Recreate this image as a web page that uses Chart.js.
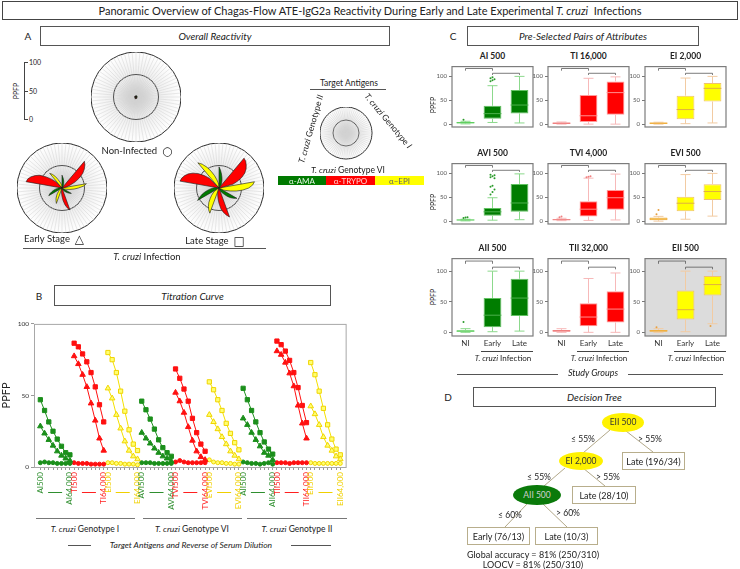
<!DOCTYPE html>
<html>
<head>
<meta charset="utf-8">
<script src="https://cdn.jsdelivr.net/npm/chart.js@4.4.0/dist/chart.umd.min.js"></script>
<style>
body { margin: 0; background: #fff; font-family: Lato, "Open Sans", sans-serif; color: #222; }
#fig { position: relative; width: 740px; height: 569px; overflow: hidden; }
.t { position: absolute; white-space: nowrap; line-height: 1; transform: translate(-50%, -50%); }
.bx { position: absolute; box-sizing: border-box; border: 1px solid #555; display: flex; align-items: center; justify-content: center; white-space: nowrap; }
.hl { position: absolute; height: 0; border-top: 1px solid #666; }
.sym { font-size: 12px; vertical-align: -1px; font-family: "DejaVu Sans", sans-serif; }
canvas { position: absolute; }
svg { position: absolute; left: 0; top: 0; }
</style>
</head>
<body>
<div id="fig">
  <svg width="740" height="569">
    <g stroke="#a99e7c" stroke-width="0.9">
      <line x1="610" y1="430" x2="583" y2="453"/>
      <line x1="626" y1="431" x2="653" y2="452"/>
      <line x1="565" y1="468" x2="544" y2="486"/>
      <line x1="583" y1="468" x2="605" y2="486"/>
      <line x1="528" y1="503" x2="505" y2="527"/>
      <line x1="543" y1="504" x2="567" y2="527"/>
    </g>
  </svg>
</div>
<script>
// ---------------------------------------------------------------
// Titration data (PPFP), serum dilution 1:500 -> 1:64,000
// ---------------------------------------------------------------
const dilutions = ['500', '1,000', '2,000', '4,000', '8,000', '16,000', '32,000', '64,000'];
const attrs = ['AI', 'TI', 'EI', 'AVI', 'TVI', 'EVI', 'AII', 'TII', 'EII'];

const AI_ni     = [3, 3.5, 3, 3, 2.5, 2.5, 2.5, 2.5];
const AI_early  = [28.5, 23.5, 19, 15, 11, 8, 6, 4.5];
const AI_late   = [47, 39.5, 31.5, 25, 19.5, 14.5, 10, 8.5];
const TI_ni     = [3, 2.5, 2.5, 2.5, 2, 2, 2, 2];
const TI_early  = [77.5, 72, 64.5, 56, 44.5, 32.5, 20, 11.5];
const TI_late   = [86.5, 84, 79, 73.5, 66, 56, 43.5, 31.5];
const EI_ni     = [3, 3, 2.5, 2.5, 2, 2, 2, 1.5];
const EI_early  = [55, 48, 36.5, 27, 18, 11.5, 7.5, 5.5];
const EI_late   = [80, 75, 66, 53, 39, 26, 16, 11.5];
const AVI_ni    = [3, 3, 3, 2.5, 2.5, 2.5, 2.5, 2.5];
const AVI_early = [24, 20, 16.5, 13, 10, 7.5, 6, 4];
const AVI_late  = [46, 40, 33.5, 26.5, 19, 13.5, 10, 7.5];
const TVI_ni    = [3.5, 4.5, 3.5, 3, 3, 3, 3, 3];
const TVI_early = [52, 46, 38, 28, 18.5, 11, 7, 5];
const TVI_late  = [68.5, 62, 54.5, 46, 34, 24, 16, 11];
const EVI_ni    = [5, 3.5, 3, 3, 2.5, 2.5, 2, 2];
const EVI_early = [36.5, 31.5, 26.5, 21, 16, 11, 8, 5.5];
const EVI_late  = [59.5, 54, 47, 39.5, 30.5, 23.5, 17, 12];
const AII_ni    = [3.5, 3, 2.5, 2.5, 2, 2.5, 3, 2];
const AII_early = [34, 29.5, 24, 19, 14.5, 10, 8, 5];
const AII_late  = [55, 47, 39.5, 31.5, 24, 17.5, 12.5, 9];
const TII_ni    = [3, 3, 3, 2.5, 3, 3, 3, 3];
const TII_early = [81, 78.5, 73, 65.5, 56.5, 43, 30.5, 20];
const TII_late  = [88, 85.5, 81, 74.5, 66, 55.5, 43, 31];
const EII_ni    = [3, 2.5, 2.5, 2.5, 2.5, 2.5, 2.5, 2.5];
const EII_early = [42.5, 37, 29.5, 21, 15, 11.5, 7.5, 5.5];
const EII_late  = [73, 64.5, 53, 41, 29.5, 19.5, 12.5, 8.5];

// ---------------------------------------------------------------
// Box plots: [min, q1, median, q3, max] for NI, Early, Late + outliers
// ---------------------------------------------------------------
const boxGroups = ['NI', 'Early', 'Late'];
const AI500     = [[0.5, 1.5, 3, 4.5, 6], [3.5, 11.5, 22, 38.5, 80.5], [2.5, 22.5, 40, 71.5, 100]];
const AI500o    = [[9], [90, 92, 94, 96, 98], []];
const TI16000   = [[0, 0.5, 2, 3.5, 4.5], [0, 4.5, 17.5, 61, 96], [0, 19.5, 66, 89.5, 99]];
const TI16000o  = [[], [], []];
const EI2000    = [[0, 0.5, 2, 3.5, 4], [1, 10, 30.5, 59.5, 96.5], [2.5, 47.5, 75, 86, 100]];
const EI2000o   = [[], [], []];
const AVI500    = [[0.5, 1.5, 2.5, 3.5, 4], [2, 11.5, 19.5, 27.5, 49], [3, 19.5, 38, 78, 99]];
const AVI500o   = [[6.5, 7.5, 8], [56, 61, 66, 72, 74, 90, 92, 94, 96, 97], []];
const TVI4000   = [[1, 2, 3, 4, 6], [1.5, 9.5, 25, 41.5, 90], [2.5, 24, 49, 65, 98.5]];
const TVI4000o  = [[8, 9.5], [92, 93, 94], []];
const EVI500    = [[0, 2, 4.5, 7.5, 10], [4, 20.5, 37.5, 51, 97.5], [10.5, 44.5, 62, 77.5, 100]];
const EVI500o   = [[14.5, 23.5], [], []];
const AII500    = [[0, 1, 2, 3.5, 6], [1, 8.5, 28, 56, 100], [2, 26.5, 56, 87.5, 100]];
const AII500o   = [[17], [], []];
const TII32000  = [[0, 1, 2.5, 4, 6], [0, 10, 25, 47.5, 88], [0, 16, 38, 67, 97]];
const TII32000o = [[], [], []];
const EII500    = [[0, 1, 2.5, 4, 6], [1, 21, 37, 68.5, 100], [14, 60, 78, 92, 100]];
const EII500o   = [[8.5], [], [10.5]];

// ---------------------------------------------------------------
Chart.defaults.font.family = 'Lato, "Open Sans", sans-serif';
Chart.defaults.animation = false;
Chart.defaults.events = [];
Chart.defaults.plugins.legend.display = false;
Chart.defaults.plugins.tooltip.enabled = false;

const fig = document.getElementById('fig');

function lab(x, y, html, css) {
  const d = document.createElement('div');
  d.className = 't';
  d.style.cssText = 'left:' + x + 'px;top:' + y + 'px;' + (css || '');
  d.innerHTML = html;
  fig.appendChild(d);
  return d;
}
function box(x, y, w, h, html, css) {
  const d = document.createElement('div');
  d.className = 'bx';
  d.style.cssText = 'left:' + x + 'px;top:' + y + 'px;width:' + w + 'px;height:' + h + 'px;' + (css || '');
  d.innerHTML = html;
  fig.appendChild(d);
  return d;
}
function hline(x1, x2, y, col) {
  const d = document.createElement('div');
  d.className = 'hl';
  d.style.cssText = 'left:' + x1 + 'px;top:' + y + 'px;width:' + (x2 - x1) + 'px;border-color:' + (col || '#666');
  fig.appendChild(d);
}
function canvasAt(x, y, w, h) {
  const c = document.createElement('canvas');
  c.width = w; c.height = h;
  c.style.left = x + 'px'; c.style.top = y + 'px';
  fig.appendChild(c);
  return c.getContext('2d');
}
function seg(ctx, x1, y1, x2, y2) {
  ctx.beginPath(); ctx.moveTo(x1, y1); ctx.lineTo(x2, y2); ctx.stroke();
}

const series = {
  AI: [AI_ni, AI_early, AI_late], TI: [TI_ni, TI_early, TI_late], EI: [EI_ni, EI_early, EI_late],
  AVI: [AVI_ni, AVI_early, AVI_late], TVI: [TVI_ni, TVI_early, TVI_late], EVI: [EVI_ni, EVI_early, EVI_late],
  AII: [AII_ni, AII_early, AII_late], TII: [TII_ni, TII_early, TII_late], EII: [EII_ni, EII_early, EII_late]
};

const antFill  = ['#007a00', '#ff0000', '#ffff00'];
const lineCol  = ['#1b8f1b', '#ff1010', '#f4e000'];
const tickCol  = ['#2f8f2f', '#ff2020', '#f0d000'];

// ---------------------------------------------------------------
// Title and panel headers
// ---------------------------------------------------------------
box(2, 1, 736, 19, 'Panoramic Overview of Chagas-Flow ATE-IgG2a Reactivity During Early and Late Experimental <i>&nbsp;T. cruzi</i>&nbsp; Infections', 'font-size:11px;border-color:#444');
lab(28, 36, 'A', 'font-size:10px');
box(40, 26, 350, 20, 'Overall Reactivity', 'font-size:10px;font-style:italic');
lab(453, 36, 'C', 'font-size:10px');
box(467, 26, 232, 20, 'Pre-Selected Pairs of Attributes', 'font-size:10px;font-style:italic');
lab(39, 296, 'B', 'font-size:10px');
box(54, 285, 277, 21, 'Titration Curve', 'font-size:10px;font-style:italic');
lab(448, 397, 'D', 'font-size:10px');
box(473, 387, 243, 20, 'Decision Tree', 'font-size:10px;font-style:italic');

// ---------------------------------------------------------------
// Panel A: radar charts
// ---------------------------------------------------------------
const radarBg = {
  id: 'radarBg',
  beforeDraw(chart) {
    const r = chart.scales.r, ctx = chart.ctx;
    const g = ctx.createRadialGradient(r.xCenter, r.yCenter, 0, r.xCenter, r.yCenter, r.drawingArea);
    g.addColorStop(0, '#c6c6c6');
    g.addColorStop(0.45, '#ececec');
    g.addColorStop(1, '#ffffff');
    ctx.save();
    ctx.fillStyle = g;
    ctx.beginPath(); ctx.arc(r.xCenter, r.yCenter, r.drawingArea, 0, Math.PI * 2); ctx.fill();
    ctx.restore();
  }
};

const spokeLabels = [];
attrs.forEach(a => dilutions.forEach(d => spokeLabels.push(a + d)));

function radarSets(stage) {
  return attrs.map((a, gi) => ({
    data: spokeLabels.map((_, i) => Math.floor(i / 8) === gi ? series[a][stage][i % 8] : 0),
    backgroundColor: antFill[gi % 3],
    borderColor: '#1a1a1a',
    borderWidth: 0.6,
    fill: true,
    pointRadius: 0,
    tension: 0
  }));
}

function radar(x, y, size, datasets) {
  new Chart(canvasAt(x, y, size, size), {
    type: 'radar',
    data: { labels: spokeLabels, datasets: datasets },
    options: {
      responsive: false,
      scales: {
        r: {
          min: 0, max: 100,
          ticks: { display: false, stepSize: 50 },
          grid: { color: '#111', lineWidth: 0.9, circular: true },
          angleLines: { color: '#d2d2d2', lineWidth: 0.5 },
          pointLabels: { display: false }
        }
      }
    },
    plugins: [radarBg]
  });
}

radar(91, 52, 90, radarSets(0));
radar(17, 143, 90, radarSets(1));
radar(174, 143, 90, radarSets(2));
radar(320, 107, 53, []);

// small PPFP scale
const ax = document.createElement('div');
ax.style.cssText = 'position:absolute;left:24px;top:62px;width:0;height:57px;border-left:1px solid #444';
fig.appendChild(ax);
[62, 90.5, 119].forEach((y, i) => {
  hline(24, 28, y, '#444');
  lab(29, y, ['100', '50', '0'][i], 'font-size:7px;transform:translate(0,-50%)');
});
lab(16, 91, 'PPFP', 'font-size:7px;transform:translate(-50%,-50%) rotate(-90deg)');

lab(137, 151, 'Non-Infected&nbsp; <span class="sym">○</span>', 'font-size:9.5px');
lab(54, 239, 'Early Stage&nbsp; <span class="sym">△</span>', 'font-size:9.5px');
lab(215, 241, 'Late Stage&nbsp; <span class="sym">□</span>', 'font-size:9.5px');
hline(23, 266, 248, '#555');
lab(147, 257, '<i>T. cruzi</i> Infection', 'font-size:9.5px');

lab(349, 83, 'Target Antigens', 'font-size:8.5px');
hline(310, 386, 89, '#555');
lab(311, 129, '<i>T. cruzi</i> Genotype <i>II</i>', 'font-size:8.5px;transform:translate(-50%,-50%) rotate(-74deg)');
lab(388, 121, '<i>T. cruzi</i> Genotype <i>I</i>', 'font-size:8.5px;transform:translate(-50%,-50%) rotate(50deg)');
lab(348, 170, '<i>T. cruzi</i> Genotype VI', 'font-size:8.5px');
box(278, 176, 48, 9, 'α-AMA', 'border:none;background:#007a00;color:#e8f5e8;font-size:8px');
box(326, 176, 49, 9, 'α-TRYPO', 'border:none;background:#ff0000;color:#ffd6d6;font-size:8px');
box(375, 176, 49, 9, 'α–EPI', 'border:none;background:#ffff00;color:#666;font-size:8px');

// ---------------------------------------------------------------
// Panel B: titration curves
// ---------------------------------------------------------------
const stageStyle = [
  { style: 'circle', r: 2 },
  { style: 'triangle', r: 3.2 },
  { style: 'rect', r: 3 }
];
const lineSets = [];
attrs.forEach((a, gi) => {
  const ag = gi % 3;
  series[a].forEach((vals, st) => {
    lineSets.push({
      data: vals.map((v, k) => ({ x: gi * 8 + k, y: v })),
      borderColor: lineCol[ag],
      backgroundColor: ag === 2 ? '#ffff70' : lineCol[ag],
      pointBorderColor: ag === 2 ? '#f0d400' : lineCol[ag],
      pointStyle: stageStyle[st].style,
      pointRadius: stageStyle[st].r,
      pointBorderWidth: 1,
      borderWidth: 1,
      tension: 0
    });
  });
});

const titrationExtras = {
  id: 'titrationExtras',
  afterDraw(chart) {
    const a = chart.chartArea, ctx = chart.ctx, xs = chart.scales.x;
    ctx.save();
    ctx.strokeStyle = '#a8a8a8'; ctx.lineWidth = 1;
    ctx.strokeRect(a.left + 0.5, a.top + 0.5, a.right - a.left - 1, a.bottom - a.top);
    attrs.forEach((_, gi) => {
      const x = xs.getPixelForValue(gi * 8 + 3.5);
      ctx.strokeStyle = tickCol[gi % 3];
      seg(ctx, x - 7, a.bottom + 25.5, x + 7, a.bottom + 25.5);
    });
    ctx.restore();
  }
};

new Chart(canvasAt(0, 318, 352, 195), {
  type: 'line',
  data: { datasets: lineSets },
  options: {
    responsive: false,
    layout: { padding: { top: 5, right: 3, left: 0, bottom: 0 } },
    scales: {
      x: {
        type: 'linear', min: -1.5, max: 72.5,
        afterBuildTicks: s => { s.ticks = spokeLabels.map((_, i) => ({ value: i })); },
        afterFit: s => { s.height = 46; },
        grid: { drawOnChartArea: false, tickLength: 3, color: '#999' },
        border: { display: false },
        ticks: {
          autoSkip: false, minRotation: 90, maxRotation: 90, padding: 2,
          font: { size: 8 },
          color: c => tickCol[Math.floor(c.tick.value / 8) % 3],
          callback: v => {
            const a = attrs[Math.floor(v / 8)];
            if (v % 8 === 0) return a + dilutions[0];
            if (v % 8 === 7) return a + dilutions[7];
            return '';
          }
        }
      },
      y: {
        min: 0, max: 100,
        afterFit: s => { s.width = 34; },
        ticks: { stepSize: 50, font: { size: 6.5 }, color: '#333', padding: 2 },
        grid: { drawOnChartArea: false, tickLength: 3, color: '#999' },
        border: { display: false },
        title: { display: true, text: 'PPFP', font: { size: 11 }, color: '#222', padding: { top: 0, bottom: 2 } }
      }
    }
  },
  plugins: [titrationExtras]
});

[[36, 135, 85, 'I'], [143, 242, 192, 'VI'], [247, 347, 297, 'II']].forEach(g => {
  hline(g[0], g[1], 518, '#777');
  lab(g[2], 529, '<i>T. cruzi</i> Genotype ' + g[3], 'font-size:8.5px');
});
lab(191, 545, '<i>Target Antigens and Reverse of Serum Dilution</i>', 'font-size:8.5px');
hline(68, 91, 545, '#555');
hline(291, 331, 545, '#555');

// ---------------------------------------------------------------
// Panel C: box plots
// ---------------------------------------------------------------
const boxCol = [
  { fill: '#007d00', border: '#62c262', whisker: '#8cd98c', median: '#4cb04c', niFill: '#2fb52f', niBorder: '#5fcf5f', out: '#2a9a2a' },
  { fill: '#ff0000', border: '#ff9a9a', whisker: '#f7b9b9', median: '#ff9090', niFill: '#f49a9a', niBorder: '#f08080', out: '#f08080' },
  { fill: '#ffff00', border: '#efc070', whisker: '#f2cba2', median: '#e0b040', niFill: '#f8c850', niBorder: '#f0b040', out: '#e8a040' }
];

const boxPanels = [
  ['AI 500', 0, AI500, AI500o], ['TI 16,000', 1, TI16000, TI16000o], ['EI 2,000', 2, EI2000, EI2000o],
  ['AVI 500', 0, AVI500, AVI500o], ['TVI 4,000', 1, TVI4000, TVI4000o], ['EVI 500', 2, EVI500, EVI500o],
  ['AII 500', 0, AII500, AII500o], ['TII 32,000', 1, TII32000, TII32000o], ['EII 500', 2, EII500, EII500o]
];

const boxExtras = {
  id: 'boxExtras',
  beforeDraw(chart) {
    const o = chart.options.plugins.boxExtras, a = chart.chartArea, ctx = chart.ctx;
    if (o.shade) {
      ctx.save(); ctx.fillStyle = '#dcdcdc';
      ctx.fillRect(a.left, a.top, a.right - a.left, a.bottom - a.top);
      ctx.restore();
    }
  },
  afterDatasetsDraw(chart) {
    const o = chart.options.plugins.boxExtras, a = chart.chartArea, ctx = chart.ctx;
    const ys = chart.scales.y, col = boxCol[o.ag];
    const bars = chart.getDatasetMeta(0).data;
    ctx.save();
    ctx.lineWidth = 1;
    o.stats.forEach((s, i) => {
      const x = bars[i].x, hw = bars[i].width / 2;
      ctx.strokeStyle = col.whisker;
      seg(ctx, x, ys.getPixelForValue(s[0]), x, ys.getPixelForValue(s[1]));
      seg(ctx, x, ys.getPixelForValue(s[3]), x, ys.getPixelForValue(s[4]));
      seg(ctx, x - 5, ys.getPixelForValue(s[0]), x + 5, ys.getPixelForValue(s[0]));
      seg(ctx, x - 5, ys.getPixelForValue(s[4]), x + 5, ys.getPixelForValue(s[4]));
      ctx.strokeStyle = i === 0 ? col.niBorder : col.median;
      seg(ctx, x - hw, ys.getPixelForValue(s[2]), x + hw, ys.getPixelForValue(s[2]));
      ctx.fillStyle = col.out;
      o.out[i].forEach((v, k) => {
        ctx.beginPath();
        ctx.arc(x + ((k % 3) - 1) * 2, ys.getPixelForValue(v), 1, 0, Math.PI * 2);
        ctx.fill();
      });
    });
    // significance brackets
    ctx.strokeStyle = '#5a5a5a'; ctx.lineWidth = 0.8;
    const bracket = (x1, x2, v, v2) => {
      const y = ys.getPixelForValue(v), y2 = ys.getPixelForValue(v2);
      ctx.beginPath(); ctx.moveTo(x1, y2); ctx.lineTo(x1, y); ctx.lineTo(x2, y); ctx.lineTo(x2, y2); ctx.stroke();
    };
    bracket(bars[0].x, bars[1].x, 116.5, 112);
    bracket(bars[1].x, bars[2].x, 106.5, 103);
    // frame
    ctx.strokeStyle = '#7c7c7c'; ctx.lineWidth = 1.2;
    ctx.strokeRect(a.left, a.top, a.right - a.left, a.bottom - a.top);
    ctx.restore();
  }
};

const colX = [452, 548, 645];
const rowY = [62, 159, 254];
boxPanels.forEach((p, n) => {
  const c = n % 3, r = Math.floor(n / 3);
  const fx = colX[c], fy = rowY[r], fw = 81, fh = r === 2 ? 82 : 81;
  const last = r === 2;
  const col = boxCol[p[1]];
  lab(fx + 40.5, fy - 6, p[0], 'font-size:8.5px;font-weight:bold');
  if (c === 0) lab(433, fy + 43, 'PPFP', 'font-size:7px;transform:translate(-50%,-50%) rotate(-90deg)');
  new Chart(canvasAt(fx - 22, fy - 1, fw + 23, fh + 2 + (last ? 15 : 0)), {
    type: 'bar',
    data: {
      labels: boxGroups,
      datasets: [{
        data: p[2].map(s => [s[1], s[3]]),
        backgroundColor: p[2].map((s, i) => i === 0 ? col.niFill : col.fill),
        borderColor: p[2].map((s, i) => i === 0 ? col.niBorder : col.border),
        borderWidth: 1, borderSkipped: false,
        barPercentage: 0.66, categoryPercentage: 1
      }]
    },
    options: {
      responsive: false,
      layout: { padding: { top: 1, right: 1, left: 0, bottom: last ? 0 : 1 } },
      plugins: { boxExtras: { ag: p[1], stats: p[2], out: p[3], shade: n === 8 } },
      scales: {
        x: {
          display: last,
          afterFit: s => { s.height = 16; },
          grid: { display: false, drawTicks: false },
          border: { display: false },
          ticks: { font: { size: 8 }, color: '#333', padding: 3 }
        },
        y: {
          min: -6, max: 120.5,
          afterBuildTicks: s => { s.ticks = [{ value: 0 }, { value: 50 }, { value: 100 }]; },
          afterFit: s => { s.width = 22; },
          ticks: { font: { size: 6 }, color: '#555', padding: 2 },
          grid: { drawOnChartArea: false, tickLength: 3, color: '#777' },
          border: { display: false }
        }
      }
    },
    plugins: [boxExtras]
  });
  if (last) {
    hline(fx + 29, fx + 81, 351, '#444');
    lab(fx + 51, 358, '<i>T. cruzi</i> Infection', 'font-size:8px');
  }
});
lab(593, 372, '<i>Study Groups</i>', 'font-size:9px');
hline(457, 558, 374, '#555');
hline(628, 723, 374, '#555');

// ---------------------------------------------------------------
// Panel D: decision tree
// ---------------------------------------------------------------
function node(cx, cy, w, h, text, bg, fg) {
  box(cx - w / 2, cy - h / 2, w, h, text, 'border:none;border-radius:50%;background:' + bg + ';color:' + fg + ';font-size:8.5px');
}
function leaf(x1, y1, x2, y2, text) {
  box(x1, y1, x2 - x1, y2 - y1, text, 'border:1px solid #b8ae8c;background:#fff;font-size:9px');
}
node(623, 422, 42, 19, 'EII 500', '#fff200', '#333');
node(581, 461, 44, 18, 'EI 2,000', '#fff200', '#333');
node(537, 495, 48, 20, 'AII 500', '#0a7a0a', '#cfcfcf');
leaf(622, 452, 685, 470, 'Late (196/34)');
leaf(572, 486, 636, 504, 'Late (28/10)');
leaf(535, 527, 598, 545, 'Late (10/3)');
leaf(467, 527, 530, 545, 'Early (76/13)');
lab(583, 439, '≤ 55%', 'font-size:8.5px');
lab(650, 439, '&gt; 55%', 'font-size:8.5px');
lab(539, 477, '≤ 55%', 'font-size:8.5px');
lab(608, 477, '&gt; 55%', 'font-size:8.5px');
lab(510, 515, '≤ 60%', 'font-size:8.5px');
lab(568, 513, '&gt; 60%', 'font-size:8.5px');
lab(533, 554, 'Global accuracy = 81% (250/310)', 'font-size:9px');
lab(533, 564, 'LOOCV = 81% (250/310)', 'font-size:9px');
</script>
</body>
</html>
